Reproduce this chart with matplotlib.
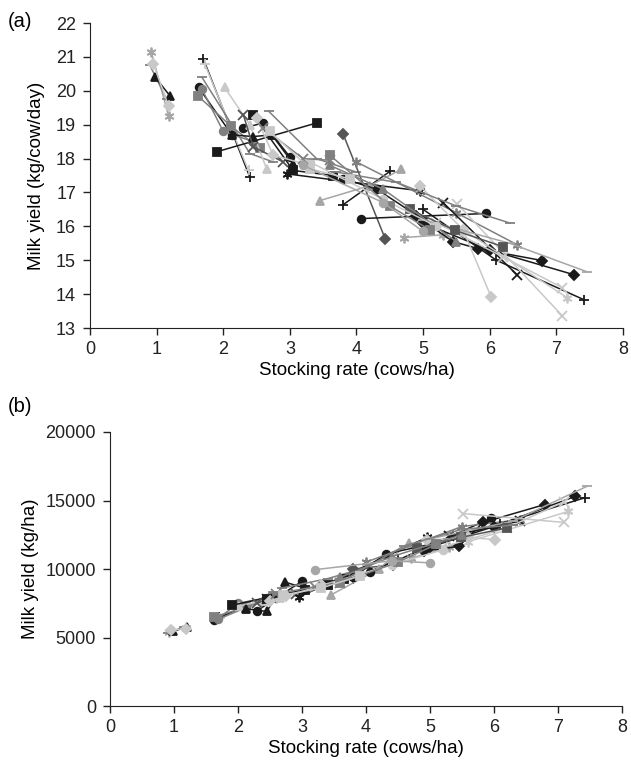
import numpy as np
import matplotlib
matplotlib.use('Agg')
from matplotlib import pyplot as plt

plt.rcParams['font.family'] = ['Liberation Sans', 'DejaVu Sans']

# stocking rate (cows/ha) of each treatment, one list per study
stocking_rate = [
    [0.92, 1.18], [0.90, 1.15], [0.98, 1.20], [0.95, 1.18],
    [1.70, 2.40], [1.72, 2.38], [1.63, 2.13], [2.30, 2.60, 3.00],
    [1.68, 2.00, 2.45], [1.62, 2.12, 2.55], [1.68, 2.40, 2.75], [2.02, 2.40, 2.65],
    [1.90, 3.40], [2.13, 2.45, 2.73, 3.05], [2.68, 3.40, 4.00], [2.30, 2.45, 2.90],
    [2.45, 3.05, 3.65], [2.95, 4.95], [3.80, 4.43], [3.80, 4.50],
    [3.45, 4.20, 4.67], [4.07, 5.95], [3.80, 4.31, 5.00], [4.00, 5.50, 6.41],
    [4.71, 5.30], [4.90, 5.45, 5.83, 6.79], [5.00, 6.00, 7.27], [5.30, 6.41],
    [5.00, 6.10, 7.42], [5.51, 7.09], [4.95, 5.60, 6.02], [5.60, 7.16],
    [5.00, 6.30, 7.46], [5.20, 6.20, 7.09], [4.80, 5.48, 6.20], [3.60, 4.40, 5.50],
    [3.30, 4.40, 5.20], [3.60, 4.50, 5.10], [3.70, 4.60, 5.50, 6.30], [2.50, 2.75, 3.30],
    [2.60, 3.20, 3.60], [2.70, 3.30, 3.90], [3.20, 4.40, 5.00],
]

# milk yield per cow (kg/cow/day)
yield_cow = [
    [21.15, 19.25], [20.75, 19.75], [20.40, 19.85], [20.80, 19.55],
    [20.95, 17.45], [20.80, 17.65], [20.10, 18.70], [18.90, 19.05, 18.05],
    [20.05, 18.80, 18.50], [19.85, 18.95, 18.30], [20.40, 18.15, 17.90], [20.10, 19.00, 17.70],
    [18.20, 19.05], [18.70, 18.65, 18.70, 17.85], [19.40, 18.00, 17.60], [19.30, 18.35, 17.90],
    [19.30, 17.65, 17.50], [17.55, 17.05], [18.72, 15.64], [16.64, 17.62],
    [16.76, 17.20, 17.68], [16.23, 16.38], [17.41, 17.09, 16.20], [17.90, 16.40, 15.46],
    [15.67, 15.75], [16.30, 15.55, 15.34, 14.99], [16.10, 15.30, 14.57], [16.70, 14.57],
    [16.50, 15.00, 13.83], [16.67, 13.36], [17.20, 15.90, 13.92], [15.90, 13.90],
    [16.20, 15.50, 14.66], [16.10, 15.10, 14.19], [16.50, 15.88, 15.40], [17.80, 17.10, 15.55],
    [17.90, 16.80, 16.00], [18.10, 16.60, 15.90], [17.60, 17.30, 16.60, 16.10], [19.20, 18.10, 17.80],
    [18.90, 18.00, 17.95], [18.80, 17.70, 17.40], [17.80, 16.70, 15.85],
]

# milk yield per hectare (kg/ha)
yield_ha = [
    [5400, 5700], [5300, 5750], [5450, 5800], [5550, 5650],
    [6500, 7700], [6400, 7600], [6300, 7300], [6950, 7900, 9100],
    [6350, 7500, 7900], [6500, 7200, 8000], [6300, 7800, 8200], [7300, 7700, 7900],
    [7350, 8850], [7100, 6900, 9050, 8600], [8600, 9300, 10100], [7500, 7800, 8200],
    [7800, 8500, 9300], [7950, 12300], [10000, 10300], [9300, 10700],
    [8100, 10000, 11900], [9750, 13700], [9400, 11100, 11800], [10500, 13100, 13600],
    [10800, 11600], [11300, 11650, 13400, 14700], [11600, 13100, 15300], [12400, 13500],
    [11900, 13300, 15200], [14050, 13400], [12100, 12300, 12150], [12000, 14200],
    [12200, 13500, 16050], [11600, 13000, 14900], [11500, 12300, 13000], [9400, 10900, 12500],
    [8800, 10300, 11400], [9000, 10500, 11800], [9300, 11700, 12900, 13200], [7700, 8000, 8800],
    [8200, 8700, 9000], [8100, 8600, 9500], [9950, 10600, 10450],
]

BLACK, DARK, MID, LIGHT, PALE = '#1a1a1a', '#555555', '#808080', '#a6a6a6', '#c8c8c8'
ASTER = (6, 2, 0)
styles = [
    (ASTER, LIGHT), ('_', MID), ('^', BLACK), ('D', PALE),
    ('+', BLACK), ('+', PALE), ('o', BLACK), ('o', BLACK),
    ('o', MID), ('s', MID), ('_', MID), ('^', PALE),
    ('s', BLACK), ('^', BLACK), ('_', MID), ('x', DARK),
    ('s', BLACK), (ASTER, BLACK), ('D', DARK), ('+', BLACK),
    ('^', LIGHT), ('o', BLACK), ('o', BLACK), (ASTER, MID),
    (ASTER, LIGHT), ('D', BLACK), ('D', BLACK), ('x', BLACK),
    ('+', BLACK), ('x', PALE), ('D', PALE), (ASTER, PALE),
    ('_', LIGHT), ('x', PALE), ('s', DARK), ('^', MID),
    ('o', PALE), ('s', MID), ('_', MID), ('D', PALE),
    ('x', MID), ('s', PALE), ('o', LIGHT),
]

fig = plt.figure(figsize=(6.31, 7.65), dpi=100)
ax_a = fig.add_axes([0.1426, 0.5712, 0.8447, 0.3987])
ax_b = fig.add_axes([0.1743, 0.0771, 0.8114, 0.3582])


def draw(ax, ys):
    for x, y, (m, c) in zip(stocking_rate, ys, styles):
        ms = 7 if m in ('+', 'x', '_', ASTER) else 5.5
        ax.plot(x, y, color=c, lw=1.1, marker=m, ms=ms, mew=1.3,
                mfc=c, mec=c, clip_on=False)


draw(ax_a, yield_cow)
draw(ax_b, yield_ha)

for ax in (ax_a, ax_b):
    ax.spines['top'].set_visible(False)
    ax.spines['right'].set_visible(False)
    ax.spines['left'].set_color('#222222')
    ax.spines['bottom'].set_color('#222222')
    ax.set_xlim(0, 8)
    ax.set_xticks(range(0, 9))
    ax.tick_params(direction='out', length=5, width=1, labelsize=13,
                   colors='#222222')
    ax.tick_params(axis='x', pad=4)
    ax.tick_params(axis='y', pad=5)
    ax.set_xlabel('Stocking rate (cows/ha)', fontsize=13.5, labelpad=3)

ax_a.set_ylim(13, 22)
ax_a.set_yticks(range(13, 23))
ax_a.set_ylabel('Milk yield (kg/cow/day)', fontsize=13.5, labelpad=8)
ax_b.set_ylim(0, 20000)
ax_b.set_yticks(range(0, 20001, 5000))
ax_b.set_ylabel('Milk yield (kg/ha)', fontsize=13.5, labelpad=5)

fig.text(0.013, 0.9725, '(a)', fontsize=14.5, va='center')
fig.text(0.013, 0.468, '(b)', fontsize=14.5, va='center')

plt.savefig('out.png', dpi=100)
plt.close()
